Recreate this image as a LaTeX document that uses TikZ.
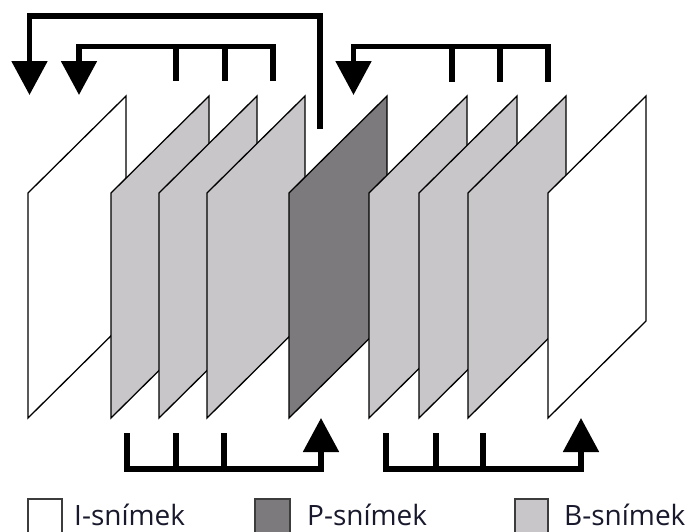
\documentclass[tikz,border=0pt]{standalone}
\usepackage{fontspec}
\setmainfont{Open Sans}
\usetikzlibrary{arrows.meta}
\definecolor{bgray}{RGB}{200,198,200}
\definecolor{pgray}{RGB}{124,122,124}
\definecolor{legline}{RGB}{60,60,60}
\definecolor{legtxt}{RGB}{25,25,45}
\begin{document}
\begin{tikzpicture}[x=1pt,y=-1pt,
  framebox/.style={draw=black,line width=1.3pt,line join=miter},
  conn/.style={line width=5.3pt,line join=miter,line cap=butt},
  tipped/.style={-{Triangle[width=35pt,length=34pt]}},
  legbox/.style={draw=legline,line width=1.5pt},
  legtext/.style={anchor=base west,inner sep=0pt,text=legtxt,font=\fontsize{28}{32}\selectfont}]
\useasboundingbox (0,0) rectangle (686,531);
% frames, drawn back to front
\foreach \x/\c [count=\i] in {28/white,111/bgray,159/bgray,207/bgray,289/pgray,369/bgray,419/bgray,468/bgray,548/white}{
  \draw[framebox,fill=\c] (\x,418) -- (\x,193) -- (\x+98,96) -- (\x+98,321) -- cycle;
}
% top connectors
\coordinate (pA) at (320,129);
\coordinate (iA) at (29.5,95);
\draw[conn,tipped] (pA) |- (29.5,16) -- (iA);
\coordinate (b3t) at (273,81);
\coordinate (iB) at (79,95);
\draw[conn,tipped] (b3t) |- (79,46.5) -- (iB);
\draw[conn] (176,46.5) -- (176,81);
\draw[conn] (225,46.5) -- (225,81);
\coordinate (b6t) at (548,82);
\coordinate (pB) at (353.5,95);
\draw[conn,tipped] (b6t) |- (353.5,46.5) -- (pB);
\draw[conn] (452,46.5) -- (452,82);
\draw[conn] (500,46.5) -- (500,82);
% bottom connectors
\coordinate (b1b) at (127,433);
\coordinate (pC) at (321,418);
\draw[conn,tipped] (b1b) |- (321,469) -- (pC);
\draw[conn] (176,433) -- (176,469);
\draw[conn] (224,433) -- (224,469);
\coordinate (b4b) at (386,433);
\coordinate (iC) at (581,418);
\draw[conn,tipped] (b4b) |- (581,469) -- (iC);
\draw[conn] (436,433) -- (436,469);
\draw[conn] (483,433) -- (483,469);
% legend
\draw[legbox,fill=white] (28,499) rectangle (62,536);
\node[legtext] (lI) at (74,525) {I-snímek};
\draw[legbox,fill=pgray] (255,499) rectangle (290,536);
\node[legtext] (lP) at (307,525) {P-snímek};
\draw[legbox,fill=bgray] (515,499) rectangle (548,536);
\node[legtext] (lB) at (564,525) {B-snímek};
\end{tikzpicture}
\end{document}
